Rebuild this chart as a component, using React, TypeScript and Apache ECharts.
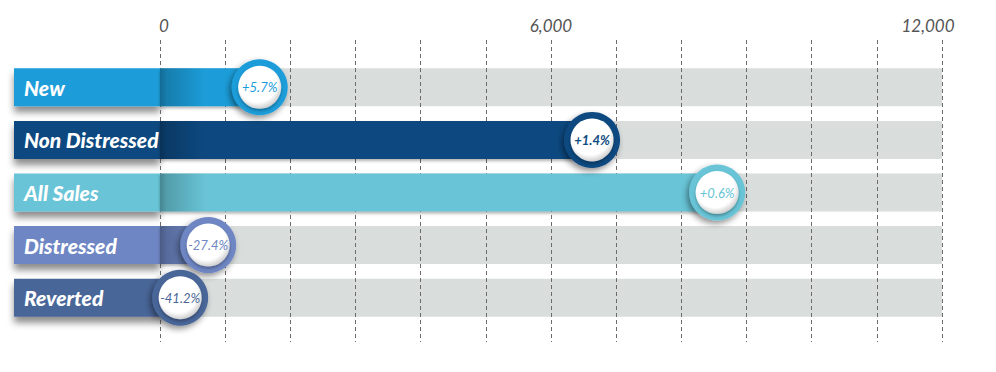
import React, { useEffect, useRef } from "react";
import * as echarts from "echarts";

const categories = ["New", "Non Distressed", "All Sales", "Distressed", "Reverted"];
const values = [1530, 6630, 8550, 740, 310];
const changes = ["+5.7%", "+1.4%", "+0.6%", "-27.4%", "-41.2%"];
const colors = ["#1b9dd9", "#0d4a80", "#68c4d6", "#6e86c3", "#4a6699"];
const trackValues = [12000, 12000, 12000, 12000, 12000];
const shadeValues = [700, 700, 700, 700, 700];
const tickLabels = [0, 6000, 12000];
const axisMin = 0;
const axisMax = 12000;
const axisStep = 1000;

const NARROW = "Lato, 'Open Sans', sans-serif";

export default function App() {
  const ref = useRef<HTMLDivElement>(null);
  useEffect(() => {
    if (!ref.current) return;
    const chart = echarts.init(ref.current, undefined, { renderer: "svg" });
    const rich: Record<string, any> = {};
    colors.forEach((c, i) => {
      rich["c" + i] = {
        backgroundColor: c,
        color: "#ffffff",
        width: 136,
        height: 38,
        lineHeight: 38,
        padding: [0, 0, 0, 10],
        fontSize: 21,
        fontWeight: 900,
        fontStyle: "italic",
        fontFamily: NARROW,
        align: "left",
        shadowColor: "rgba(0,0,0,0.45)",
        shadowBlur: 7,
        shadowOffsetY: 6,
      };
    });
    const tickStyle = {
      color: "#555555",
      fontSize: 17,
      fontStyle: "italic",
      fontFamily: "Lato, 'Liberation Sans', sans-serif",
    };
    const option: any = {
      animation: false,
      grid: [
        { left: 160, right: 54, top: 40, bottom: 30 },
        { left: 160, right: 54, top: 61, bottom: 48 },
      ],
      xAxis: [
        {
          gridIndex: 0,
          type: "value",
          position: "top",
          min: axisMin,
          max: axisMax,
          interval: axisStep,
          z: 2,
          axisLine: { show: false },
          axisTick: { show: false },
          splitLine: { show: true, lineStyle: { color: "#6b6b6b", type: [4, 3], width: 1 } },
          axisLabel: {
            margin: 6,
            ...tickStyle,
            formatter: (v: number) => {
              if (tickLabels.indexOf(v) < 0) return "";
              const s = v.toLocaleString("en-US");
              if (v === axisMin) return `{lo|${s}}`;
              if (v === axisMax) return `{hi|${s}}`;
              return `{mid|${s}}`;
            },
            rich: {
              lo: { ...tickStyle, padding: [0, 0, 0, 8] },
              mid: { ...tickStyle },
              hi: { ...tickStyle, padding: [0, 28, 0, 0] },
            },
          },
        },
        {
          gridIndex: 1,
          type: "value",
          min: axisMin,
          max: axisMax,
          interval: axisStep,
          show: false,
          splitLine: { show: false },
        },
      ],
      yAxis: [
        { gridIndex: 0, type: "category", data: categories, show: false },
        {
          gridIndex: 1,
          type: "category",
          data: categories,
          inverse: true,
          axisLine: { show: false },
          axisTick: { show: false },
          splitLine: { show: false },
          axisLabel: {
            margin: 0,
            align: "right",
            formatter: (v: string, i: number) => `{c${i}|${v}}`,
            rich,
          },
        },
      ],
      series: [
        {
          type: "bar",
          xAxisIndex: 1,
          yAxisIndex: 1,
          data: trackValues,
          barWidth: 38,
          barGap: "-100%",
          z: 1,
          silent: true,
          itemStyle: { color: "#d9dedd" },
        },
        {
          type: "bar",
          xAxisIndex: 1,
          yAxisIndex: 1,
          barWidth: 38,
          barGap: "-100%",
          z: 3,
          data: values.map((v, i) => ({
            value: v,
            itemStyle: {
              color: colors[i],
              shadowColor: "rgba(0,0,0,0.3)",
              shadowBlur: 3,
              shadowOffsetY: 2,
            },
          })),
        },
        {
          type: "bar",
          xAxisIndex: 1,
          yAxisIndex: 1,
          barWidth: 38,
          barGap: "-100%",
          z: 4,
          silent: true,
          data: shadeValues,
          itemStyle: {
            color: new echarts.graphic.LinearGradient(0, 0, 1, 0, [
              { offset: 0, color: "rgba(0,0,0,0.32)" },
              { offset: 0.15, color: "rgba(0,0,0,0.2)" },
              { offset: 1, color: "rgba(0,0,0,0)" },
            ]),
          },
        },
        {
          type: "scatter",
          xAxisIndex: 1,
          yAxisIndex: 1,
          z: 5,
          symbol: "circle",
          symbolSize: 56,
          data: values.map((v, i) => ({
            value: [v, i],
            itemStyle: {
              color: colors[i],
              opacity: 1,
              shadowColor: "rgba(0,0,0,0.45)",
              shadowBlur: 6,
              shadowOffsetX: -2,
              shadowOffsetY: 3,
            },
          })),
        },
        {
          type: "scatter",
          xAxisIndex: 1,
          yAxisIndex: 1,
          z: 6,
          symbol: "circle",
          symbolSize: 43,
          data: values.map((v, i) => ({
            value: [v, i],
            itemStyle: {
              opacity: 1,
              color: new echarts.graphic.RadialGradient(0.45, 0.4, 0.6, [
                { offset: 0, color: "#ffffff" },
                { offset: 0.75, color: "#ffffff" },
                { offset: 1, color: "#cfcfcf" },
              ]),
              shadowColor: "rgba(0,0,0,0.3)",
              shadowBlur: 3,
              shadowOffsetY: 2,
            },
            label: {
              show: true,
              position: "inside",
              formatter: changes[i],
              color: colors[i],
              fontSize: 13,
              fontStyle: "italic",
              fontWeight: i === 1 ? "bold" : "normal",
              fontFamily: NARROW,
            },
          })),
        },
      ],
    };
    chart.setOption(option);
    return () => chart.dispose();
  }, []);
  return (
    <div
      ref={ref}
      style={{ position: "absolute", left: 0, top: 0, width: 996, height: 372, background: "#ffffff" }}
    />
  );
}
